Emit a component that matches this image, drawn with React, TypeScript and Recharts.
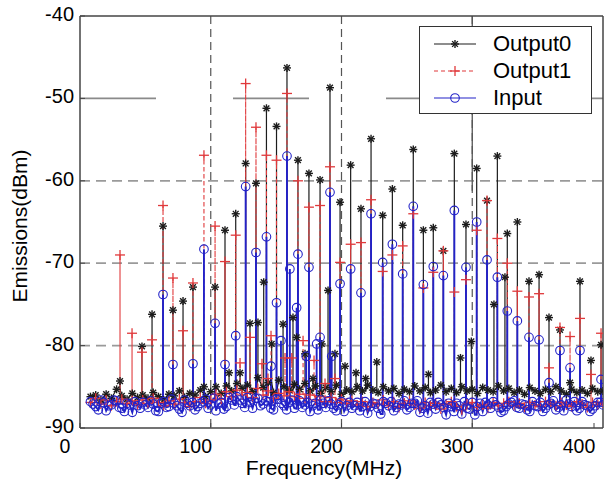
import React from 'react'
import { LineChart, Line, XAxis, YAxis, CartesianGrid, ReferenceLine } from 'recharts'

// harmonic lines (MHz) and the peak level of each trace at that line (dBm), null = stays on the floor
const harmonicFreq = [
  30.6, 39.8, 47.4, 55.1, 63.5, 71.1, 78.8, 86.4, 94.8, 103.3, 110.9, 119.1, 126.7, 134.6, 142.6, 150.3,
  158.3, 166.7, 175.1, 183.6, 191.2, 198.9, 207.0, 214.9, 222.6, 231.5, 238.9, 246.8, 254.9, 262.6, 270.2,
  277.9, 286.3, 295.2, 303.4, 311.3, 319.2, 326.8, 334.5, 343.4, 351.1, 358.7, 367.1, 374.8, 382.4, 390.8, 398.5,
]
const output0Peak = [
  -84.3, null, -80.1, -76.2, -65.5, -75.7, -74.6, -72.9, -85.0, -72.9, -66.0, -64.0, -57.9, -60.3, -51.2, -53.4,
  -46.3, -57.5, -59.1, -59.9, -48.7, -62.6, -58.1, -63.4, -54.9, -64.2, -61.0, -65.4, -56.2, -66.0, -65.7,
  -68.5, -56.7, -65.3, -58.5, -62.4, -57.0, -66.4, -65.0, -72.2, -71.4, -76.6, -78.1, -84.5, -72.2, -81.8, -79.9,
]
const output1Peak = [
  -69.0, -78.5, -80.8, -79.3, -63.0, -71.8, -78.2, -72.4, -56.9, -65.5, -69.8, -66.6, -48.2, -53.5, -56.9, -57.5,
  -49.4, -60.0, -63.2, -63.0, -58.3, -69.9, -67.7, -67.5, -62.3, -71.0, -69.0, -67.9, -64.0, -73.0, -71.1,
  -68.5, -73.5, -72.0, -66.0, -62.4, -67.0, -70.0, -73.4, -74.1, -73.7, -82.7, -77.8, -78.9, -76.7, -83.5, -78.5,
]
const inputPeak = [
  null, null, null, null, -73.8, -82.3, null, -82.2, -68.3, -77.3, -82.3, -78.8, -60.7, -68.7, -66.8, -74.8,
  -57.0, -68.9, -70.5, -79.0, -61.4, -72.5, -70.7, -73.6, -64.0, -69.9, -67.7, -71.3, -63.1, -72.6, -70.4,
  -71.5, -63.6, -70.5, -65.0, -69.6, -71.7, -75.8, -77.0, -79.0, -79.3, -84.5, -80.6, -82.7, -80.6, null, -84.1,
]

// smaller in-between spurs
const output0ExtraFreq = [
  114, 122.4, 130, 136.1, 140.5, 146.6, 155.3, 162.9, 165.7, 172.1, 178.2, 184.9, 189.7, 195, 202.7, 211.1,
  218.5, 227, 266.5, 291, 299.3, 316.6, 325,
]
const output0ExtraPeak = [
  -83.3, -83.3, -77.3, -77.2, -72.3, -79.8, -77.4, -76.6, -79.0, -81.0, -84.0, -79.8, -73.3, -81.0, -82.5, -83.3,
  -84.0, -82.0, -83.5, -81.5, -79.5, -75.0, -71.7,
]
const output1ExtraFreq = [122.4, 130.1, 139.2, 143.8, 146.1, 156.8, 162, 170.6, 179, 187.4, 195]
const output1ExtraPeak = [-82.1, -79.0, -82.2, -84.0, -78.8, -81.5, -81.5, -79.4, -81.8, -84.6, -84.0]
const inputExtraFreq = [146.1, 153.7, 160.5, 165.7, 173, 181, 192.5]
const inputExtraPeak = [-82.5, -79.4, -70.7, -75.4, -81.3, -79.8, -81.3]

// noise floor readings: every 4 MHz from 8 MHz (input also has the readings in between)
const floorStart = 8
const floorStep = 4
const output0Floor = [
  -86.2, -86.0, -86.6, -85.9, -86.4, -85.3, -86.1, -86.5, -85.8, -86.3,
  -86.0, -86.4, -85.7, -86.2, -86.6, -85.9, -86.1, -85.5, -86.3, -85.8,
  -86.0, -85.4, -86.2, -85.6, -85.0, -85.8, -84.9, -85.5, -84.6, -85.2,
  -84.8, -85.6, -83.9, -85.1, -84.5, -85.7, -84.2, -85.0, -85.4, -84.7,
  -85.3, -84.6, -85.5, -84.9, -85.8, -85.1, -85.6, -84.8, -85.9, -85.4,
  -85.6, -85.0, -85.5, -84.8, -85.4, -85.7, -85.0, -85.5, -85.2, -85.8,
  -85.3, -85.6, -84.9, -85.5, -85.1, -85.7, -85.4, -84.8, -85.6, -85.2,
  -85.7, -85.0, -85.5, -85.3, -85.8, -85.1, -85.4, -85.6, -84.9, -85.5,
  -85.2, -85.7, -85.4, -85.9, -85.1, -85.5, -85.8, -85.3, -85.6, -85.0,
  -85.5, -85.9, -85.3, -85.7, -85.4, -85.8, -85.2, -85.6, -85.5,
]
const output1Floor = [
  -86.9, -86.4, -87.1, -86.6, -87.3, -86.8, -86.5, -87.0, -86.7, -87.2,
  -86.6, -87.0, -86.4, -86.9, -87.3, -86.7, -87.1, -86.5, -86.9, -87.4,
  -86.8, -86.3, -87.0, -86.6, -85.9, -86.5, -85.6, -86.2, -85.4, -86.0,
  -85.7, -86.3, -85.2, -86.0, -85.5, -86.4, -85.8, -86.1, -85.6, -86.2,
  -85.9, -86.4, -86.0, -86.6, -86.2, -86.8, -86.3, -86.9, -86.5, -87.0,
  -86.7, -87.2, -86.8, -87.4, -86.9, -87.1, -86.6, -87.3, -86.8, -87.5,
  -87.0, -86.7, -87.2, -87.6, -86.9, -87.3, -87.0, -87.7, -87.1, -86.8,
  -87.4, -87.8, -87.1, -86.9, -87.5, -87.2, -87.6, -86.9, -87.3, -87.0,
  -86.8, -87.3, -87.0, -87.5, -86.9, -87.2, -87.4, -86.8, -87.1, -87.3,
  -86.9, -87.2, -87.4, -86.8, -87.1, -87.5, -86.9, -87.2, -87.0,
]
const inputFloor = [
  -86.8, -87.4, -86.6, -87.9, -87.2, -86.7, -87.6, -87.0, -88.1, -87.3,
  -86.9, -87.5, -87.1, -88.0, -86.8, -87.4, -87.0, -87.7, -86.6, -87.3,
  -87.8, -87.0, -86.5, -87.2, -87.9, -86.9, -87.4, -86.6, -86.2, -87.0,
  -86.3, -87.6, -86.4, -87.1, -86.8, -87.8, -86.5, -87.3, -86.9, -87.6,
  -86.7, -87.2, -88.0, -87.0, -86.6, -87.5, -87.1, -87.9, -86.8, -87.3,
  -87.6, -86.9, -87.4, -88.2, -87.0, -87.6, -86.8, -87.3, -87.9, -87.1,
  -86.7, -87.5, -87.0, -88.1, -87.3, -86.9, -87.7, -87.2, -88.4, -87.4,
  -87.0, -88.3, -87.6, -86.9, -87.4, -88.0, -87.2, -86.8, -87.5, -87.9,
  -87.1, -86.7, -87.6, -87.2, -88.0, -87.3, -86.9, -87.6, -87.0, -87.8,
  -87.2, -86.6, -87.4, -87.9, -86.8, -87.3, -87.7, -86.9, -87.2,
]
// input floor readings at 10, 14, 18 ... MHz
const inputFloorMid = [
  -87.1, -87.8, -86.9, -87.3, -86.6, -87.5, -88.0, -87.2, -86.8, -87.6,
  -87.2, -86.7, -87.9, -87.0, -87.5, -86.5, -87.3, -88.1, -87.0, -86.9,
  -87.4, -86.8, -87.6, -86.4, -87.1, -87.7, -86.3, -87.2, -86.6, -87.5,
  -86.9, -86.4, -87.3, -86.7, -87.6, -86.5, -87.0, -87.8, -86.6, -87.2,
  -87.5, -86.9, -87.3, -87.8, -87.0, -86.7, -87.6, -87.2, -88.0, -86.9,
  -87.3, -87.9, -86.8, -87.4, -87.1, -88.3, -87.0, -86.8, -87.5, -87.2,
  -87.8, -87.0, -86.7, -87.6, -88.2, -87.1, -86.9, -87.5, -87.0, -88.0,
  -87.3, -86.8, -87.7, -88.4, -87.0, -86.9, -87.6, -87.2, -88.1, -87.4,
  -86.9, -87.5, -87.1, -87.8, -86.8, -87.4, -88.0, -87.2, -86.7, -87.5,
  -87.9, -87.1, -86.8, -87.6, -87.2, -88.0, -87.3, -86.9,
]

const xTicks = [0, 100, 200, 300, 400]
const yTicks = [-90, -80, -70, -60, -50, -40]
const dashedRows = [-60, -70, -80]
const dashedCols = [100, 200, 300]

type Pt = { f: number; v: number; mark: boolean }

const floorPoints = (values: number[], start: number) =>
  values.map((v, i) => ({ f: start + i * floorStep, v }))

// one spectrum trace: floor readings with each spur drawn as a stem up from the floor
function buildTrace(floor: { f: number; v: number }[], freqs: number[], peaks: (number | null)[]): Pt[] {
  const spurs = freqs
    .map((f, i) => ({ f, p: peaks[i] }))
    .filter((s) => s.p !== null && s.p !== undefined)
    .sort((a, b) => a.f - b.f)
  const sortedFloor = [...floor].sort((a, b) => a.f - b.f)
  const out: Pt[] = []
  let j = 0
  sortedFloor.forEach(({ f, v }) => {
    while (j < spurs.length && spurs[j].f < f) {
      const base = out.length ? out[out.length - 1].v : v
      out.push({ f: spurs[j].f, v: base, mark: false })
      out.push({ f: spurs[j].f, v: spurs[j].p as number, mark: true })
      out.push({ f: spurs[j].f, v: base, mark: false })
      j++
    }
    out.push({ f, v, mark: true })
  })
  return out
}

const output0Data = buildTrace(
  floorPoints(output0Floor, floorStart),
  [...harmonicFreq, ...output0ExtraFreq],
  [...output0Peak, ...output0ExtraPeak],
)
const output1Data = buildTrace(
  floorPoints(output1Floor, floorStart),
  [...harmonicFreq, ...output1ExtraFreq],
  [...output1Peak, ...output1ExtraPeak],
)
const inputData = buildTrace(
  [...floorPoints(inputFloor, floorStart), ...floorPoints(inputFloorMid, floorStart + 2)],
  [...harmonicFreq, ...inputExtraFreq],
  [...inputPeak, ...inputExtraPeak],
)

const BLACK = '#1c1c1c'
const RED = '#e0393b'
const BLUE = '#2222c8'
const FONT = '"Liberation Sans", Arial, sans-serif'

const starShape = (cx: number, cy: number, key: string) => {
  const r = 4
  const d = r * 0.72
  return (
    <g key={key} stroke={BLACK} strokeWidth={1.4}>
      <line x1={cx - r} y1={cy} x2={cx + r} y2={cy} />
      <line x1={cx} y1={cy - r} x2={cx} y2={cy + r} />
      <line x1={cx - d} y1={cy - d} x2={cx + d} y2={cy + d} />
      <line x1={cx - d} y1={cy + d} x2={cx + d} y2={cy - d} />
    </g>
  )
}
const plusShape = (cx: number, cy: number, key: string) => (
  <g key={key} stroke={RED} strokeWidth={1.3}>
    <line x1={cx - 5} y1={cy} x2={cx + 5} y2={cy} />
    <line x1={cx} y1={cy - 5} x2={cx} y2={cy + 5} />
  </g>
)
const circleShape = (cx: number, cy: number, key: string) => (
  <circle key={key} cx={cx} cy={cy} r={4.3} fill="none" stroke={BLUE} strokeWidth={1.1} />
)

const makeDot = (shape: typeof starShape, tag: string) => (props: any) => {
  const { cx, cy, payload, index } = props
  const key = `${tag}${index}`
  if (!payload || !payload.mark || cx == null || cy == null) return <g key={key} />
  return shape(cx, cy, key)
}

const XTick = ({ x, payload }: any) => (
  <g>
    <line x1={x} y1={428} x2={x} y2={423} stroke="#444" />
    <text x={x - 15} y={453} textAnchor="middle" fontSize={19.5} fontFamily={FONT} fill="#000">
      {payload.value}
    </text>
  </g>
)
const YTick = ({ y, payload }: any) => (
  <g>
    <line x1={80} y1={y} x2={85} y2={y} stroke="#444" />
    <text x={74} y={y + 5} textAnchor="end" fontSize={20} fontFamily={FONT} fill="#000">
      {payload.value}
    </text>
  </g>
)

const legendItems = [
  { name: 'Output0', color: BLACK, dash: undefined, shape: starShape },
  { name: 'Output1', color: RED, dash: '4 3', shape: plusShape },
  { name: 'Input', color: BLUE, dash: undefined, shape: circleShape },
]

const ChartLegend = () => (
  <div
    style={{
      position: 'absolute',
      left: 419,
      top: 26,
      width: 173,
      height: 88,
      boxSizing: 'border-box',
      border: '1.5px solid #333',
      background: '#fff',
      paddingTop: 3,
    }}
  >
    {legendItems.map((it) => (
      <div key={it.name} style={{ display: 'flex', alignItems: 'center', height: 27 }}>
        <svg width={70} height={20} style={{ marginLeft: 12 }}>
          <line x1={2} y1={10} x2={44} y2={10} stroke={it.color} strokeWidth={1.2} strokeDasharray={it.dash} />
          {it.shape(23, 10, it.name)}
        </svg>
        <span style={{ fontFamily: FONT, fontSize: 22, color: '#000', marginLeft: -9, lineHeight: '27px' }}>{it.name}</span>
      </div>
    ))}
  </div>
)

export default function App() {
  return (
    <div style={{ position: 'absolute', left: 0, top: 0, width: 606, height: 479, background: '#fff' }}>
      <LineChart width={606} height={479} margin={{ top: 16, right: 3, bottom: 0, left: 0 }}>
        <CartesianGrid
          horizontal={false}
          verticalValues={dashedCols}
          stroke="#555"
          strokeDasharray="8 5"
          strokeWidth={1.2}
        />
        <CartesianGrid
          vertical={false}
          horizontalValues={dashedRows}
          stroke="#9a9a9a"
          strokeDasharray="10 6"
          strokeWidth={1.8}
        />
        <ReferenceLine y={-50} stroke="#8a8a8a" strokeWidth={1.8} strokeDasharray="76 77" />
        <ReferenceLine
          segment={[
            { x: 300, y: -40 },
            { x: 300, y: -61.2 },
          ]}
          stroke="#555"
          strokeWidth={1.3}
        />
        <XAxis
          dataKey="f"
          type="number"
          domain={[0, 400]}
          ticks={xTicks}
          allowDataOverflow
          height={51}
          tickSize={0}
          tickMargin={0}
          tickLine={false}
          axisLine={{ stroke: '#444', strokeWidth: 1.5 }}
          tick={<XTick />}
          label={{
            content: () => (
              <text x={324} y={475} textAnchor="middle" fontSize={21} fontFamily={FONT} fill="#000">
                Frequency(MHz)
              </text>
            ),
          }}
        />
        <YAxis
          type="number"
          domain={[-90, -40]}
          ticks={yTicks}
          allowDataOverflow
          width={80}
          tickSize={0}
          tickMargin={0}
          tickLine={false}
          axisLine={{ stroke: '#444', strokeWidth: 1.5 }}
          tick={<YTick />}
          label={{
            content: () => (
              <text
                x={27}
                y={226}
                transform="rotate(-90 27 226)"
                textAnchor="middle"
                fontSize={21}
                fontFamily={FONT}
                fill="#000"
              >
                Emissions(dBm)
              </text>
            ),
          }}
        />
        <ReferenceLine x={400} stroke="#444" strokeWidth={1.5} />
        <ReferenceLine y={-40} stroke="#444" strokeWidth={1.5} />
        <Line
          data={output0Data}
          dataKey="v"
          name="Output0"
          stroke={BLACK}
          strokeWidth={1.2}
          dot={makeDot(starShape, 'a')}
          activeDot={false}
          isAnimationActive={false}
        />
        <Line
          data={output1Data}
          dataKey="v"
          name="Output1"
          stroke={RED}
          strokeWidth={1.1}
          strokeDasharray="4 3"
          dot={makeDot(plusShape, 'b')}
          activeDot={false}
          isAnimationActive={false}
        />
        <Line
          data={inputData}
          dataKey="v"
          name="Input"
          stroke={BLUE}
          strokeWidth={1.9}
          dot={makeDot(circleShape, 'c')}
          activeDot={false}
          isAnimationActive={false}
        />
      </LineChart>
      <ChartLegend />
    </div>
  )
}
